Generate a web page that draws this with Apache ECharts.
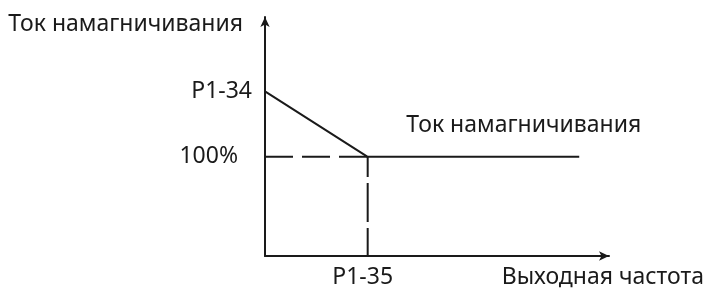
<!DOCTYPE html>
<html>
<head>
<meta charset="utf-8">
<script src="https://cdn.jsdelivr.net/npm/echarts@6/dist/echarts.min.js"></script>
<style>
  html, body { margin: 0; padding: 0; background: #fff; }
  #chart { width: 707px; height: 291px; }
</style>
</head>
<body>
<div id="chart"></div>
<script>
// частота (P1-35 = 1) и ток (100% = 1)
var freq = [0, 1, 3.06]
var current = [1.66, 1, 1]
// пунктир: 100% -> P1-35 и P1-35 -> ось
var hGuideFreq = [0, 1]
var hGuideCurrent = [1, 1]
var vGuideFreq = [1, 1]
var vGuideCurrent = [0, 1]
var xTicks = [{ value: 1, label: 'P1-35' }]
var yTicks = [{ value: 1, label: '100%' }, { value: 1.66, label: 'P1-34' }]
var seriesName = 'Ток намагничивания'
var xName = 'Выходная частота'
var yName = 'Ток намагничивания'

var font = 'Noto Sans'
var size = 23
var ink = '#1a1a1a'

function pairs (xs, ys) {
  return xs.map(function (x, i) { return [x, ys[i]] })
}
function tickLabel (list, v) {
  var hit = list.find(function (t) { return Math.abs(t.value - v) < 1e-6 })
  return hit ? hit.label : ''
}
function guide (name, xs, ys, dash) {
  return {
    name: name,
    type: 'line',
    data: pairs(xs, ys),
    symbol: 'none',
    lineStyle: { color: ink, width: 2, type: dash }
  }
}

var chart = echarts.init(document.getElementById('chart'))
var option = {
  animation: false,
  grid: { left: 265, top: 17, width: 345, height: 239 },
  xAxis: {
    type: 'value',
    min: 0,
    max: 3.35,
    name: xName,
    nameLocation: 'end',
    nameGap: 95,
    nameTextStyle: {
      fontFamily: font, fontSize: size, color: ink,
      align: 'right', verticalAlign: 'top', padding: [10, 0, 0, 0]
    },
    axisLine: { lineStyle: { color: ink, width: 2 }, symbol: ['none', 'arrow'], symbolSize: [7, 10] },
    axisTick: { show: false },
    splitLine: { show: false },
    axisLabel: {
      customValues: xTicks.map(function (t) { return t.value }),
      formatter: function (v) { return tickLabel(xTicks, v) },
      fontFamily: font, fontSize: size, color: ink, margin: 10,
      padding: [0, 10, 0, 0]
    }
  },
  yAxis: {
    type: 'value',
    min: 0,
    max: 2.41,
    name: yName,
    nameLocation: 'end',
    nameGap: 0,
    nameTextStyle: {
      fontFamily: font, fontSize: size, color: ink,
      align: 'right', verticalAlign: 'top', padding: [-4, 22, 0, 0]
    },
    axisLine: { lineStyle: { color: ink, width: 2 }, symbol: ['none', 'arrow'], symbolSize: [7, 10] },
    axisTick: { show: false },
    splitLine: { show: false },
    axisLabel: {
      customValues: yTicks.map(function (t) { return t.value }),
      formatter: function (v) {
        var s = tickLabel(yTicks, v)
        return v === 1 ? '{p|' + s + '}' : s
      },
      rich: { p: { fontFamily: font, fontSize: size, color: ink, padding: [0, 14, 0, 0] } },
      fontFamily: font, fontSize: size, color: ink, margin: 13
    }
  },
  series: [
    {
      name: seriesName,
      type: 'line',
      data: pairs(freq, current),
      symbol: 'none',
      lineStyle: { color: ink, width: 2 },
      z: 3,
      markPoint: {
        symbol: 'circle',
        symbolSize: 0,
        data: [{ coord: [2.52, 1] }],
        label: {
          show: true,
          position: 'top',
          distance: 20,
          formatter: function (p) { return p.seriesName },
          fontFamily: font, fontSize: size, color: ink
        }
      }
    },
    guide('guideH', hGuideFreq, hGuideCurrent, [28, 9]),
    guide('guideV', vGuideFreq, vGuideCurrent, [28, 6, 39, 6, 30])
  ]
}
chart.setOption(option)
</script>
</body>
</html>
